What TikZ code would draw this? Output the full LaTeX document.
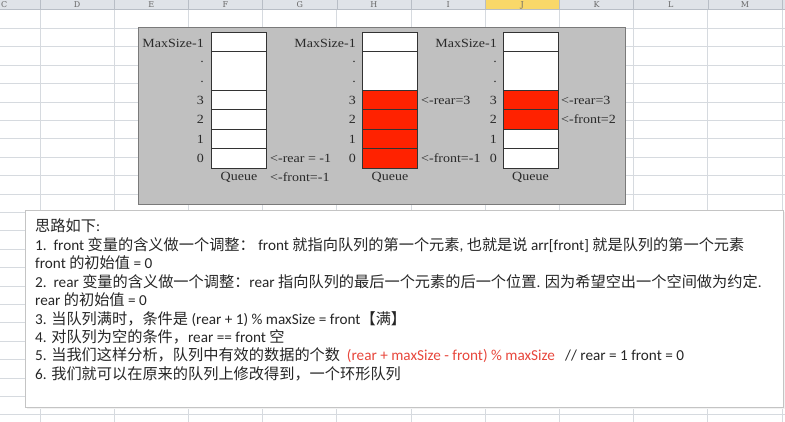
\documentclass[tikz,border=0pt]{standalone}
\usepackage{fontspec}
\setmainfont{Liberation Serif}
\newfontfamily\qfont[FakeStretch=1.12]{Liberation Serif}
\newfontfamily\latf{Carlito}
\newfontfamily\cjkf{Noto Sans CJK SC}
\newfontfamily\hdrf{DejaVu Serif}
\newcommand\zhx[1]{{\cjkf #1}}
\definecolor{gridc}{HTML}{D6DADF}
\definecolor{hdrbg}{HTML}{DFE3E8}
\definecolor{hdrline}{HTML}{B8BEC6}
\definecolor{jyel}{HTML}{F9D869}
\definecolor{boxgray}{HTML}{C0C0C0}
\definecolor{boxedge}{HTML}{7A7A7A}
\definecolor{qred}{HTML}{FF2200}
\definecolor{labc}{HTML}{2A2A2A}
\definecolor{txtc}{HTML}{262626}
\definecolor{redtxt}{HTML}{E8473C}
\definecolor{tbedge}{HTML}{C4C4C4}
\tikzset{
  cell/.style={draw=black!80, line width=0.8pt, minimum width=55pt, minimum height=19.5pt, inner sep=0pt, outer sep=0pt, fill=white},
  bigcell/.style={cell, minimum height=39pt},
  redcell/.style={cell, fill=qred},
  lab/.style={font=\qfont\fontsize{12.5}{13}\selectfont, text=labc, inner sep=0pt},
  llab/.style={lab, anchor=east},
  rlab/.style={lab, anchor=west},
  tline/.style={font=\latf\fontsize{15.2}{16}\selectfont, text=txtc, anchor=west, inner sep=0pt, text height=11pt, text depth=3pt},
  hdr/.style={font=\hdrf\fontsize{8}{9}\selectfont, text=black!60, inner sep=0pt}
}
\begin{document}
\begin{tikzpicture}[x=1pt,y=-1pt]
\useasboundingbox (0,0) rectangle (785,422);
\clip (0,0) rectangle (785,422);
% sheet grid
\fill[white] (0,0) rectangle (785,422);
\foreach \k in {0,...,21} {
  \draw[gridc, line width=0.7pt] (0,{28.3+18.4*\k}) -- (785,{28.3+18.4*\k});
}
\foreach \k in {0,...,10} {
  \draw[gridc, line width=0.7pt] ({40+74.2*\k},9.5) -- ({40+74.2*\k},422);
}
% header
\fill[hdrbg] (0,0) rectangle (785,9.5);
\fill[jyel] (485.2,0) rectangle (559.4,9.5);
\draw[hdrline, line width=0.8pt] (0,9.5) -- (785,9.5);
\foreach \k in {0,...,10} {
  \draw[hdrline, line width=0.6pt] ({40+74.2*\k},0) -- ({40+74.2*\k},9.5);
}
\foreach \l [count=\i from 0] in {D,E,F,G,H,I,J,K,L,M} {
  \node[hdr] (h\l) at ({77.1+74.2*\i},5) {\l};
}
\node[hdr, anchor=west] (hC) at (1,5) {C};
% gray panel
\node[draw=boxedge, fill=boxgray, line width=1.4pt, minimum width=487pt, minimum height=177pt, inner sep=0pt, anchor=north west] (panel) at (138,27) {};
% queues
\foreach \q/\xc in {1/239, 2/390, 3/530.5} {
  \node[cell] (q\q top) at (\xc,41.75) {};
  \node[bigcell] (q\q big) at (\xc,71) {};
}
\node[cell] (q1c3) at (239,99.75) {};
\node[cell] (q1c2) at (239,119.25) {};
\node[cell] (q1c1) at (239,138.75) {};
\node[cell] (q1c0) at (239,158.25) {};
\node[redcell] (q2c3) at (390,99.75) {};
\node[redcell] (q2c2) at (390,119.25) {};
\node[redcell] (q2c1) at (390,138.75) {};
\node[redcell] (q2c0) at (390,158.25) {};
\node[redcell] (q3c3) at (530.5,99.75) {};
\node[redcell] (q3c2) at (530.5,119.25) {};
\node[cell] (q3c1) at (530.5,138.75) {};
\node[cell] (q3c0) at (530.5,158.25) {};
% left labels
\foreach \q/\xr in {1/204, 2/356, 3/497} {
  \node[llab] (m\q) at (\xr,43) {MaxSize-1};
  \node[llab] (d\q a) at (\xr,61.5) {.};
  \node[llab] (d\q b) at (\xr,81.5) {.};
  \node[llab] (n\q c) at (\xr,100) {3};
  \node[llab] (n\q b) at (\xr,119.5) {2};
  \node[llab] (n\q a) at (\xr,139) {1};
  \node[llab] (n\q z) at (\xr,158.5) {0};
}
\node[lab] (ql1) at (239,177) {Queue};
\node[lab] (ql2) at (390,177) {Queue};
\node[lab] (ql3) at (530.5,177) {Queue};
\node[rlab] (r1) at (270,158.5) {<-rear = -1};
\node[rlab] (f1) at (270,177) {<-front=-1};
\node[rlab] (r2) at (421,100) {<-rear=3};
\node[rlab] (f2) at (421,158.5) {<-front=-1};
\node[rlab] (r3) at (561,100) {<-rear=3};
\node[rlab] (f3) at (561,119.5) {<-front=2};
% text box
\fill[black!5] (27,212) rectangle (785,409);
\node[draw=tbedge, fill=white, line width=0.8pt, minimum width=758pt, minimum height=197pt, inner sep=0pt, anchor=north west] (tbox) at (25,210) {};
\node[tline] (t0) at (35,228) {\zhx{思路如下}:};
\node[tline] (t1) at (35,246.4) {1.\ \ front \zhx{变量的含义做一个调整：}\ front \zhx{就指向队列的第一个元素}, \zhx{也就是说} arr[front] \zhx{就是队列的第一个元素}};
\node[tline] (t2) at (35,264.8) {front \zhx{的初始值} = 0};
\node[tline] (t3) at (35,283.2) {2.\ \ rear \zhx{变量的含义做一个调整：}rear \zhx{指向队列的最后一个元素的后一个位置}. \zhx{因为希望空出一个空间做为约定}.};
\node[tline] (t4) at (35,301.6) {rear \zhx{的初始值} = 0};
\node[tline] (t5) at (35,320) {3. \zhx{当队列满时，条件是} (rear + 1) \% maxSize = front\zhx{【满】}};
\node[tline] (t6) at (35,338.4) {4. \zhx{对队列为空的条件，}rear == front \zhx{空}};
\node[tline] (t7) at (35,356.8) {5. \zhx{当我们这样分析，队列中有效的数据的个数}\ \ {\color{redtxt}(rear + maxSize - front) \% maxSize}\ \ \ // rear = 1 front = 0};
\node[tline] (t8) at (35,375.2) {6. \zhx{我们就可以在原来的队列上修改得到，一个环形队列}};
\end{tikzpicture}
\end{document}
